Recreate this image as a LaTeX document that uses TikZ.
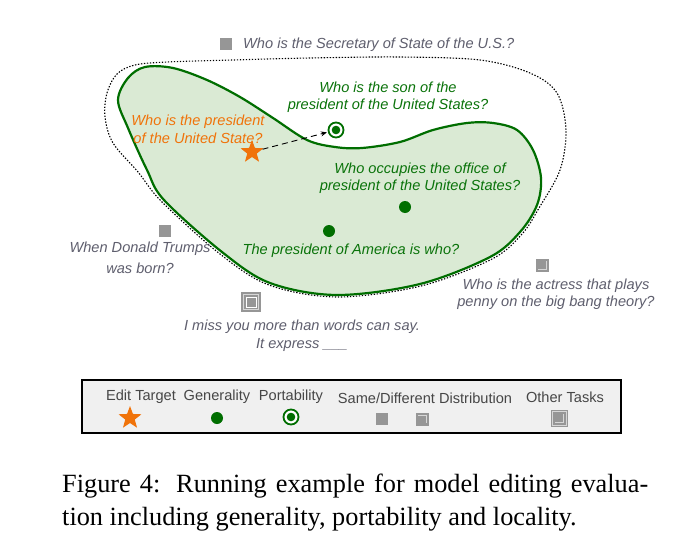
\documentclass[tikz,border=0pt]{standalone}
\usepackage{fontspec}
\setmainfont{Liberation Serif}
\newfontfamily\lab{Liberation Sans}
\usetikzlibrary{shapes.geometric,arrows.meta}
\definecolor{blobgreen}{RGB}{0,110,0}
\definecolor{blobfill}{RGB}{218,234,212}
\definecolor{txtgreen}{RGB}{10,115,10}
\definecolor{edorange}{RGB}{240,115,10}
\definecolor{txtgray}{RGB}{95,95,110}
\definecolor{sqgray}{RGB}{150,150,150}
\definecolor{sqlight}{RGB}{215,215,215}
\definecolor{legfill}{RGB}{240,240,240}
\definecolor{legtext}{RGB}{70,70,70}
\tikzset{
  lbl/.style={font=\lab\itshape\fontsize{14.6}{17.5}\selectfont, align=center, inner sep=0pt},
  leglbl/.style={font=\lab\fontsize{14.6}{17.5}\selectfont, text=legtext, inner sep=0pt},
  gen/.style={circle, fill=blobgreen, minimum size=12pt, inner sep=0pt},
  port/.style={circle, draw=blobgreen, line width=1.8pt, fill=white, minimum size=15pt, inner sep=0pt,
    path picture={\fill[blobgreen] (path picture bounding box.center) circle (4.3pt);}},
  editstar/.style={star, star points=5, star point ratio=2.4, fill=edorange, minimum size=24pt, inner sep=0pt},
  sqsame/.style={rectangle, fill=sqgray, minimum size=12pt, inner sep=0pt},
  sqdiff/.style={rectangle, fill=sqgray, minimum size=13pt, inner sep=0pt,
    path picture={\draw[sqlight, line width=1pt]
      ([shift={(2.5,2.5)}]path picture bounding box.north west) --
      ([shift={(-2.5,2.5)}]path picture bounding box.north east) --
      ([shift={(-2.5,-2.5)}]path picture bounding box.south east);}},
  sqother/.style={rectangle, fill=sqgray, minimum size=13pt, inner sep=0pt,
    path picture={\draw[sqlight, line width=1pt]
      ([shift={(-2.5,2.5)}]path picture bounding box.north east) --
      ([shift={(-2.5,-2.5)}]path picture bounding box.south east) --
      ([shift={(2.5,-2.5)}]path picture bounding box.south west);}},
  sqdouble/.style={rectangle, fill=sqgray, minimum size=20pt, inner sep=0pt,
    path picture={
      \draw[sqlight, line width=0.7pt]
        ([shift={(2.2,2.2)}]path picture bounding box.north west) rectangle
        ([shift={(-2.2,-2.2)}]path picture bounding box.south east);
      \draw[white, line width=1pt]
        ([shift={(5,5)}]path picture bounding box.north west) rectangle
        ([shift={(-5,-5)}]path picture bounding box.south east);}},
  sqlegother/.style={rectangle, fill=sqgray, minimum size=17pt, inner sep=0pt,
    path picture={
      \draw[sqlight, line width=0.7pt]
        ([shift={(1.6,1.6)}]path picture bounding box.north west) rectangle
        ([shift={(-1.6,-1.6)}]path picture bounding box.south east);
      \draw[sqlight, line width=1pt]
        ([shift={(-4.5,4.5)}]path picture bounding box.north east) --
        ([shift={(-4.5,-4.5)}]path picture bounding box.south east) --
        ([shift={(4.5,-4.5)}]path picture bounding box.south west);}},
}
\begin{document}
\begin{tikzpicture}[x=1pt,y=-1pt]
\useasboundingbox (0,0) rectangle (674,546);
\fill[white] (0,0) rectangle (674,546);

% green blob
\draw[blobgreen, line width=2.2pt, fill=blobfill]
  plot[smooth cycle, tension=0.55] coordinates {
  (118,100) (128,78) (145,67) (173,68) (207,80) (240,97) (273,118) (307,140)
  (335,147) (362,148) (400,142) (433,130) (467,123) (493,123) (517,130)
  (533,150) (541,178) (537,205) (520,232) (490,257) (420,284) (337,295)
  (270,283) (222,252) (164,200) (147,170) (128,128)};

% dotted outer region
\draw[black, line width=1.1pt, dash pattern=on 1.4pt off 1.6pt]
  plot[smooth cycle, tension=0.55] coordinates {
  (105,117) (107,93) (117,74) (135,65) (167,62) (233,60) (310,58) (400,57)
  (480,60) (530,73) (557,93) (566,130) (560,170) (539,208) (522,234)
  (492,259) (421,286) (337,297) (269,285) (220,254) (162,202) (138,172) (113,143)};

% top label
\node[sqsame] (s1) at (226,44) {};
\node[lbl, text=txtgray, anchor=west] (t1) at (243,45) {Who is the Secretary of State of the U.S.?};

% portability
\node[lbl, text=txtgreen] (t2) at (388,97) {Who is the son of the\\president of the United States?};
\node[port] (p1) at (336,130) {};

% edit target
\node[lbl, text=edorange] (t3) at (198,129.5) {Who is the president\\of the United State?};
\node[editstar] (st) at (252,152) {};
\draw[black, line width=0.9pt, dash pattern=on 6pt off 4pt, -{Stealth[length=6pt,width=5pt]}, shorten >=1pt] (st) -- (p1);

% generality
\node[lbl, text=txtgreen] (t4) at (420,178) {Who occupies the office of\\president of the United States?};
\node[gen] (g1) at (405,207) {};
\node[gen] (g2) at (329,231) {};
\node[lbl, text=txtgreen] (t5) at (351,251) {The president of America is who?};

% locality
\node[sqsame] (s2) at (165,231) {};
\node[lbl, text=txtgray] (t6) at (140,258) {When Donald Trumps\\[3.5pt]was born?};
\node[sqother] (s3) at (542,265) {};
\node[lbl, text=txtgray] (t7) at (556,294) {Who is the actress that plays\\penny on the big bang theory?};
\node[sqdouble] (s4) at (251,302) {};
\node[lbl, text=txtgray] (t8) at (302,335.5) {I miss you more than words can say.\\It express \_\_\_};

% legend
\draw[black, line width=2pt, fill=legfill] (82,380) rectangle (621,433);
\node[leglbl] (l1) at (141,397) {Edit Target};
\node[leglbl] (l2) at (217,397) {Generality};
\node[leglbl] (l3) at (291,397) {Portability};
\node[leglbl] (l4) at (425,398) {Same/Different Distribution};
\node[leglbl] (l5) at (565,397) {Other Tasks};
\node[editstar] (k1) at (130,418) {};
\node[gen] (k2) at (217,418) {};
\node[port] (k3) at (291,417) {};
\node[sqsame] (k4) at (382,419) {};
\node[sqdiff] (k5) at (422,419) {};
\node[sqlegother] (k6) at (559,418) {};

% caption
\node[anchor=base west, inner sep=0pt, font=\fontsize{26.3}{33}\selectfont] (c1) at (62,492)
  {\makebox[586pt][s]{Figure 4:\hspace{2pt} Running example for model editing evalua-}};
\node[anchor=base west, inner sep=0pt, font=\fontsize{26.3}{33}\selectfont] (c2) at (62,525)
  {tion including generality, portability and locality.};
\end{tikzpicture}
\end{document}
